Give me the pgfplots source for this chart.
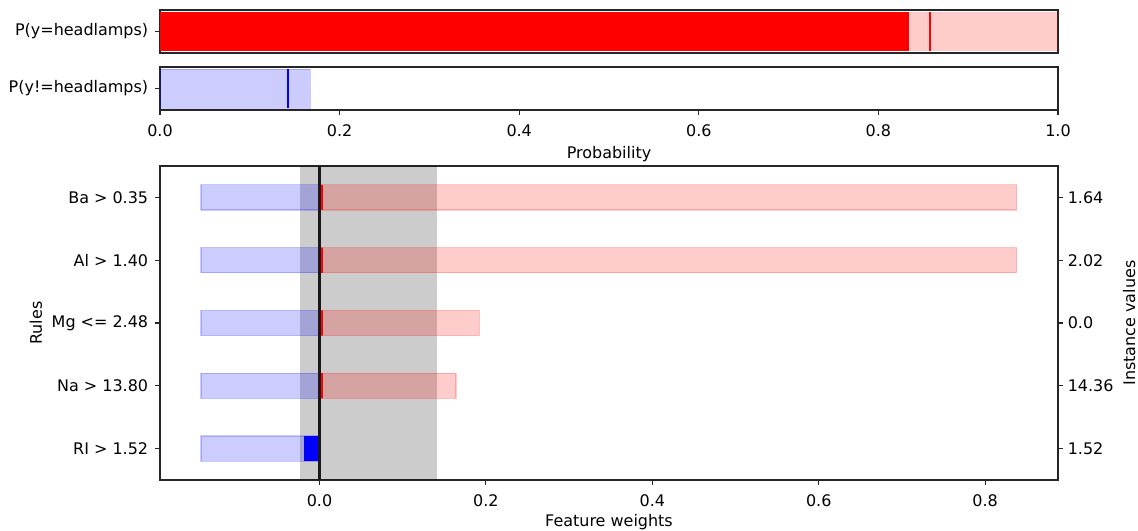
\documentclass[border=0pt]{standalone}
\usepackage{fontspec}
\setmainfont{DejaVu Sans}
\usepackage{pgfplots}
\pgfplotsset{compat=1.18}
\pgfplotsset{
  base/.style={
    scale only axis, width=646.56pt,
    axis line style={line width=0.8pt, black!85},
    every tick/.style={line width=0.8pt, black!85},
    tick align=outside, major tick length=3.5pt,
    font=\fontsize{11.5}{13}\selectfont,
    tick label style={font=\fontsize{11.5}{13}\selectfont},
    label style={font=\fontsize{11.5}{13}\selectfont},
    xticklabel style={yshift=-3.5pt},
    /pgf/number format/assume math mode=true,
    anchor=south west,
  },
  lblue/.style={xbar, bar width=0.4, bar shift=0pt, fill=blue, fill opacity=0.2, draw=blue, draw opacity=0.2, line width=0.8pt},
  lred/.style={xbar, bar width=0.4, bar shift=0pt, fill=red, fill opacity=0.2, draw=red, draw opacity=0.2, line width=0.8pt},
}
\begin{document}
\begin{tikzpicture}
% top axis 1
\begin{axis}[base, at={(115.2pt,344.16pt)}, height=30.96pt,
  xmin=0, xmax=1, ymin=-0.44, ymax=0.44,
  xtick=\empty, ytick={0}, yticklabels={P(y=headlamps)}, ytick pos=left,
  yticklabel style={xshift=-1.5pt}]
  \addplot[xbar, bar width=0.8, bar shift=0pt, fill=red, fill opacity=0.2, draw=none] coordinates {(1,0)};
  \addplot[xbar, bar width=0.8, bar shift=0pt, fill=red, fill opacity=1, draw=none] coordinates {(0.834,0)};
  \addplot[fill=red, fill opacity=1, draw=none] coordinates {(0.8558,-0.4) (0.8558,0.4) (0.8582,0.4) (0.8582,-0.4)} -- cycle;
\end{axis}
% top axis 2
\begin{axis}[base, at={(115.2pt,303.12pt)}, height=30.96pt,
  xmin=0, xmax=1, ymin=-0.44, ymax=0.44,
  xtick={0,0.2,...,1}, xtick pos=bottom,
  xticklabel style={/pgf/number format/.cd, fixed, fixed zerofill, precision=1},
  ytick={0}, yticklabels={P(y!=headlamps)}, ytick pos=left,
  yticklabel style={xshift=-1.5pt},
  xlabel={Probability}]
  \addplot[xbar, bar width=0.8, bar shift=0pt, fill=blue, fill opacity=0.2, draw=blue, draw opacity=0.2] coordinates {(0.167,0)};
  \addplot[fill=blue, fill opacity=1, draw=none] coordinates {(0.1413,-0.4) (0.1413,0.4) (0.1437,0.4) (0.1437,-0.4)} -- cycle;
\end{axis}
% main axis
\begin{axis}[base, at={(115.2pt,36.72pt)}, height=226.08pt,
  xmin=-0.1917, xmax=0.8876, ymin=-0.5, ymax=4.5,
  xtick={0,0.2,0.4,0.6,0.8}, xtick pos=bottom,
  xticklabel style={/pgf/number format/.cd, fixed, fixed zerofill, precision=1},
  ytick={0,1,2,3,4}, yticklabels={RI > 1.52, Na > 13.80, Mg <= 2.48, Al > 1.40, Ba > 0.35},
  ytick pos=left, yticklabel style={xshift=-1.5pt},
  xlabel={Feature weights}, ylabel={Rules}, xlabel style={yshift=1.5pt}]
  \addplot[fill=black, fill opacity=0.2, draw=none] coordinates {(-0.0234,-0.5) (-0.0234,4.5) (0.1412,4.5) (0.1412,-0.5)} -- cycle;
  \addplot[lblue] coordinates {(-0.1424,0) (-0.1424,1) (-0.1424,2) (-0.1424,3) (-0.1424,4)};
  \addplot[lred] coordinates {(0.164,1) (0.192,2) (0.838,3) (0.838,4)};
  \addplot[xbar, bar width=0.4, bar shift=0pt, fill=red, fill opacity=1, draw=none] coordinates {(0.004,1) (0.004,2) (0.004,3) (0.004,4)};
  \addplot[xbar, bar width=0.4, bar shift=0pt, fill=blue, fill opacity=1, draw=none] coordinates {(-0.0186,0)};
  \addplot[fill=black!90, fill opacity=1, draw=none] coordinates {(-0.0013,-0.5) (-0.0013,4.5) (0.0013,4.5) (0.0013,-0.5)} -- cycle;
\end{axis}
% right axis
\begin{axis}[base, at={(115.2pt,36.72pt)}, height=226.08pt,
  xmin=-0.1917, xmax=0.8876, ymin=-0.5, ymax=4.5,
  axis x line=none, axis y line*=right,
  ytick={0,1,2,3,4}, yticklabels={1.52, 14.36, 0.0, 2.02, 1.64},
  ylabel={Instance values}]
  \addplot[draw=none] coordinates {(0,0)};
\end{axis}
\pgfresetboundingbox
\path (0,0) rectangle (819.36pt,382.32pt);
\end{tikzpicture}
\end{document}
